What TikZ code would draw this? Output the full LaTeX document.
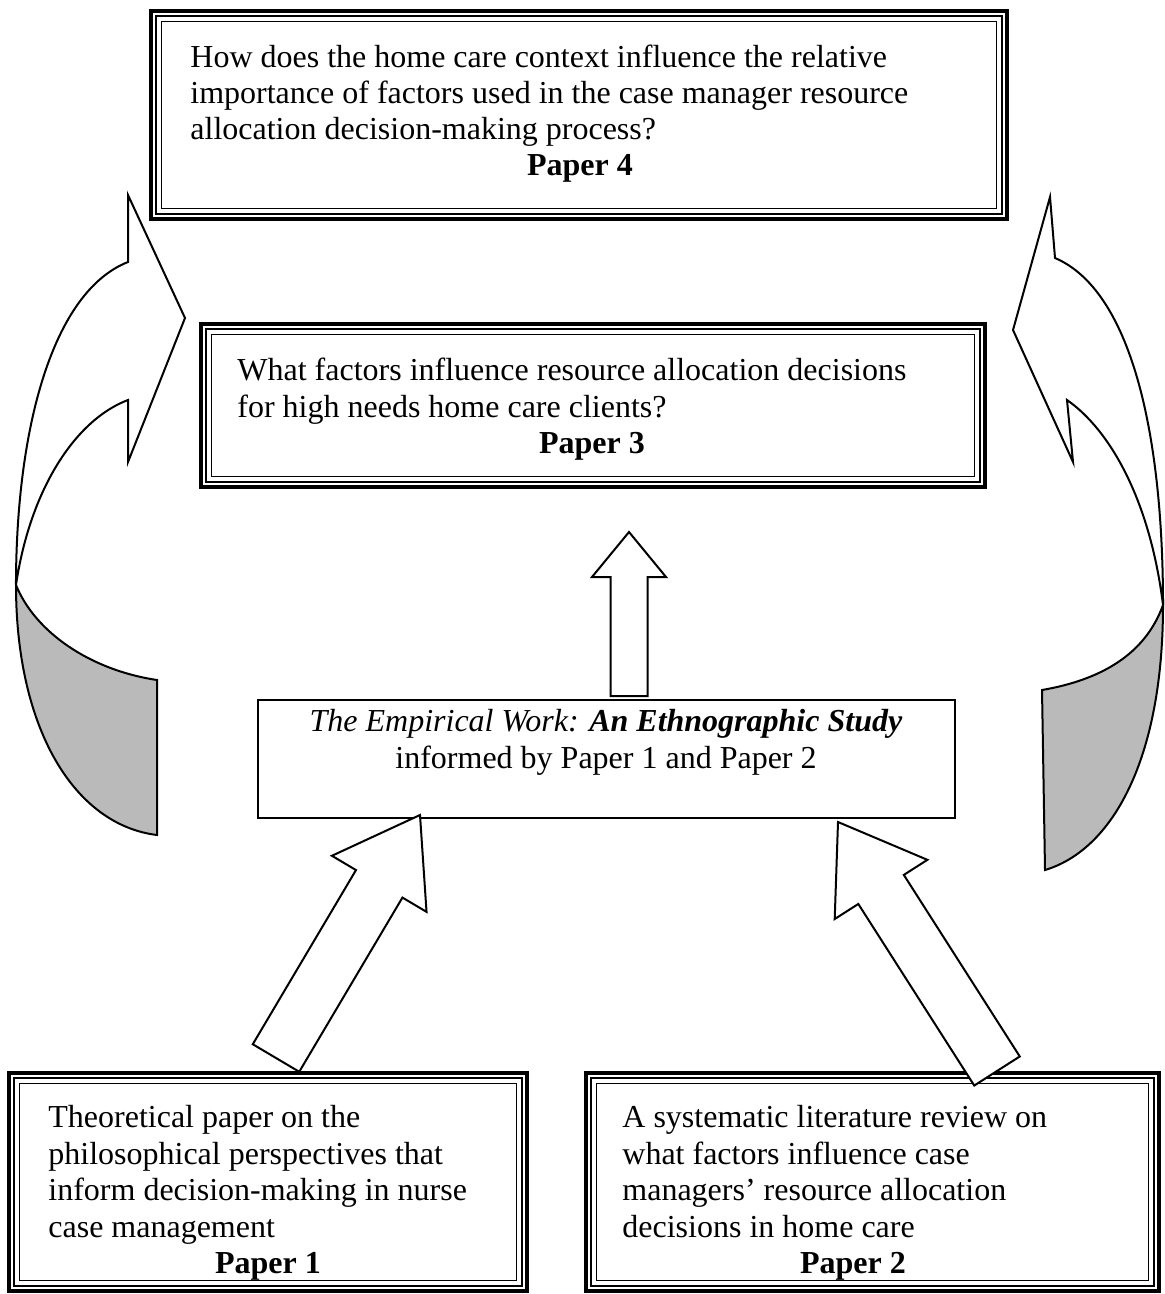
\documentclass[tikz,border=0pt]{standalone}
\usepackage{fontspec}
\setmainfont{Liberation Serif}
\usetikzlibrary{calc}
\newcommand\innerlines[1]{%
  \draw[line width=1pt] ($(#1.north west)+(7,7)$) rectangle ($(#1.south east)+(-7,-7)$);
  \draw[line width=0.7pt] ($(#1.north west)+(12.5,12.5)$) rectangle ($(#1.south east)+(-12.5,-12.5)$);}
\newcommand\blockarr[6]{% name, tail, tip, shaft half, head half, head length
  \coordinate (#1b) at ($(#3)!#6!(#2)$);
  \draw[blockarrow] ($(#2)!#4!90:(#3)$) -- ($(#1b)!#4!90:(#3)$) -- ($(#1b)!#5!90:(#3)$) -- (#3)
    -- ($(#1b)!#5!-90:(#3)$) -- ($(#1b)!#4!-90:(#3)$) -- ($(#2)!#4!-90:(#3)$) -- cycle;}
\begin{document}
\begin{tikzpicture}[x=0.5pt,y=-0.5pt,
  txt/.style={font=\fontsize{16}{18.2}\selectfont, inner sep=0pt},
  lbl/.style={font=\fontsize{16}{18.2}\selectfont\bfseries, inner sep=0pt, anchor=base},
  tribox/.style={draw, line width=2pt, inner sep=0pt},
  plainbox/.style={draw, line width=0.8pt, inner sep=0pt},
  blockarrow/.style={draw, fill=white, line width=1pt, line join=miter},
  curvearrow/.style={draw, fill=white, line width=1pt, line join=miter},
  shade/.style={draw, fill=black!27, line width=1pt, line join=miter}]
\useasboundingbox (0,0) rectangle (1165,1294);

% ---------- boxes ----------
\node[tribox, minimum width=428pt, minimum height=104pt] (p4) at (579,115) {};
\innerlines{p4}
\node[tribox, minimum width=392pt, minimum height=81.5pt] (p3) at (593,405.5) {};
\innerlines{p3}
\node[plainbox, minimum width=348.5pt, minimum height=59pt] (emp) at (606.5,759) {};
\node[tribox, minimum width=259pt, minimum height=109pt] (p1) at (268,1182) {};
\innerlines{p1}
\node[tribox, minimum width=286.5pt, minimum height=109pt] (p2) at (872.5,1182) {};
\innerlines{p2}

% ---------- texts (base anchor = last line) ----------
\node[txt, anchor=base west, align=left] (t4) at (190,140)
  {How does the home care context influence the relative\\
   importance of factors used in the case manager resource\\
   allocation decision-making process?};
\node[lbl] (l4) at (580,176) {Paper 4};

\node[txt, anchor=base west, align=left] (t3) at (237,417)
  {What factors influence resource allocation decisions\\
   for high needs home care clients?};
\node[lbl] (l3) at (592,453) {Paper 3};

\node[txt, anchor=base, align=center] (te) at (606,768)
  {\textit{The Empirical Work: \textbf{An Ethnographic Study}}\\
   informed by Paper 1 and Paper 2};

\node[txt, anchor=base west, align=left] (t1) at (48,1237)
  {Theoretical paper on the\\
   philosophical perspectives that\\
   inform decision-making in nurse\\
   case management};
\node[lbl] (l1) at (268,1273) {Paper 1};

\node[txt, anchor=base west, align=left] (t2) at (622,1237)
  {A systematic literature review on\\
   what factors influence case\\
   managers' resource allocation\\
   decisions in home care};
\node[lbl] (l2) at (853,1273) {Paper 2};

% ---------- straight block arrows ----------
\coordinate (upTail) at ($(emp.north)+(22.5,-3)$);
\coordinate (upTip) at (629,532);
\blockarr{up}{upTail}{upTip}{9.25pt}{18.5pt}{22.5pt}

\coordinate (laTail) at (276,1058);
\coordinate (laTip) at (420,815);
\blockarr{la}{laTail}{laTip}{13.5pt}{27.5pt}{40pt}

\coordinate (raTail) at (997,1071);
\coordinate (raTip) at (838,822);
\blockarr{ra}{raTail}{raTip}{13.5pt}{27.5pt}{40pt}

% ---------- left curved arrow ----------
\coordinate (lH1) at (128,195);
\coordinate (lTip) at (185,318);
\coordinate (lH2) at (128,462);
\coordinate (lN1) at (128,262);
\coordinate (lN2) at (128,400);
\coordinate (lM) at (16,585);
\coordinate (lB) at (157,835);
\coordinate (lC) at (157,680);
\draw[shade] (lM) .. controls (16,730) and (75,825) .. (lB) -- (lC)
  .. controls (90,670) and (35,632) .. (lM) -- cycle;
\draw[curvearrow] (lH1) -- (lTip) -- (lH2) -- (lN2)
  .. controls (75,420) and (30,490) .. (lM)
  .. controls (16,430) and (52,292) .. (lN1) -- cycle;

% ---------- right curved arrow ----------
\coordinate (rH1) at (1050,197);
\coordinate (rTip) at (1013,330);
\coordinate (rH2) at (1073,462);
\coordinate (rN1) at (1055,258);
\coordinate (rN2) at (1067,400);
\coordinate (rM) at (1163,605);
\coordinate (rB) at (1045,870);
\coordinate (rC) at (1042,690);
\draw[shade] (rM) .. controls (1163,760) and (1112,850) .. (rB) -- (rC)
  .. controls (1100,680) and (1145,655) .. (rM) -- cycle;
\draw[curvearrow] (rH1) -- (rTip) -- (rH2) -- (rN2)
  .. controls (1110,430) and (1150,500) .. (rM)
  .. controls (1163,430) and (1130,290) .. (rN1) -- cycle;
\end{tikzpicture}
\end{document}
